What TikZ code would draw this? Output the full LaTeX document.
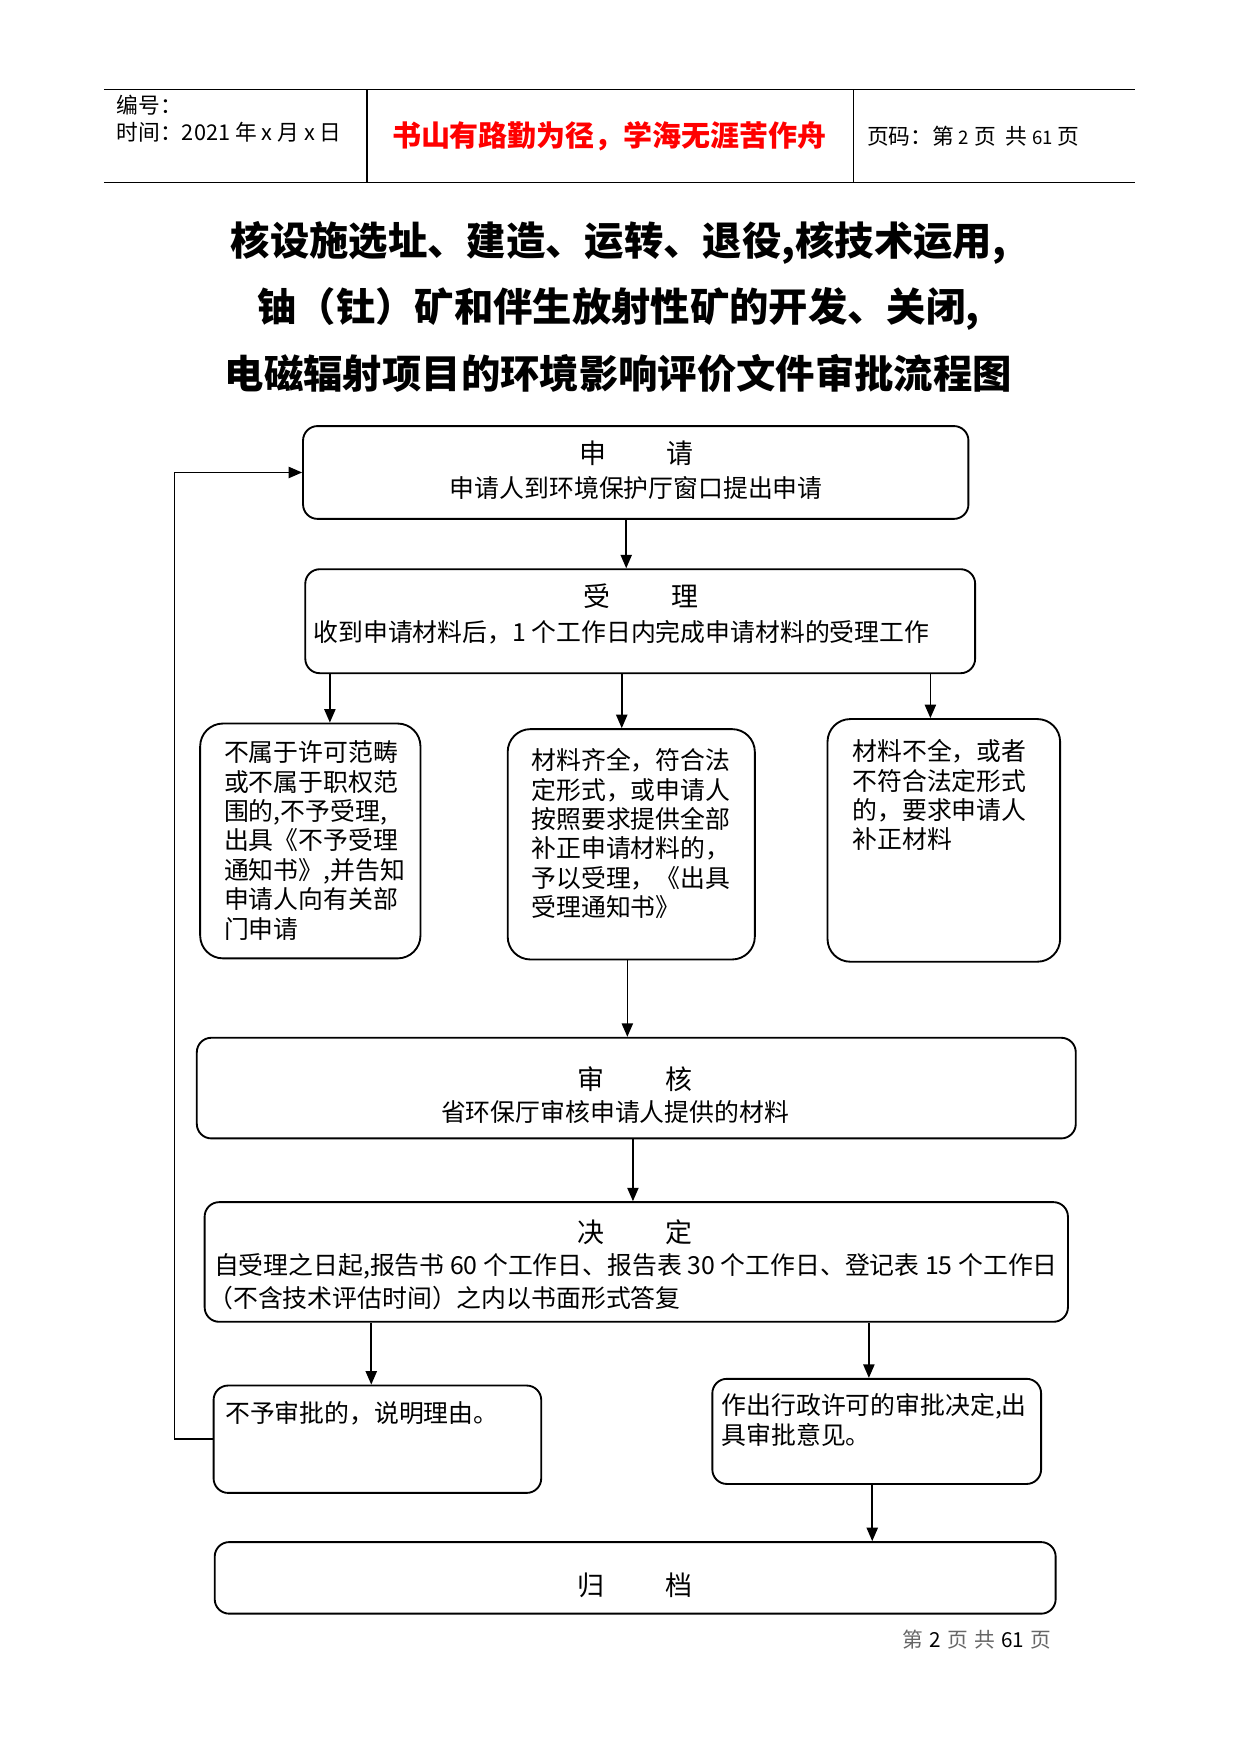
\documentclass[tikz,border=0pt]{standalone}
\usepackage{fontspec}
\setmainfont{Noto Sans CJK SC}
\usetikzlibrary{arrows.meta,fit}
\tikzset{
  box/.style={draw, line width=0.9pt, rounded corners=7pt, inner sep=0pt},
  tallbox/.style={box, rounded corners=11pt},
  arr/.style={line width=0.8pt, -{Triangle[length=6.5pt,width=5.4pt]}},
  rule/.style={line width=0.7pt},
  head/.style={font=\fontsize{13}{15}\selectfont, inner sep=0pt},
  body/.style={font=\fontsize{12}{14.2}\selectfont, inner sep=0pt},
  lines/.style={body, align=left, anchor=north west},
  ttl/.style={font=\fontsize{19}{22}\bfseries\selectfont, inner sep=0pt},
  hdr/.style={font=\fontsize{10.5}{13}\selectfont, inner sep=0pt, anchor=west}
}
\begin{document}
\begin{tikzpicture}[x=0.54pt, y=-0.54pt]
\useasboundingbox (0,0) rectangle (1109.8,1568.5);

% header table
\coordinate (hl) at (93,80);
\coordinate (hr) at (1015,80);
\coordinate (hbl) at (93,163);
\coordinate (hbr) at (1015,163);
\coordinate (v1t) at (328,80);
\coordinate (v1b) at (328,163);
\coordinate (v2t) at (763,80);
\coordinate (v2b) at (763,163);
\draw[rule] (hl) -- (hr);
\draw[rule] (hbl) -- (hbr);
\draw[rule] (v1t) -- (v1b);
\draw[rule] (v2t) -- (v2b);
\node[hdr] (bianhao) at (104,94) {编号：};
\node[hdr] (shijian) at (104,118) {时间：2021 年 x 月 x 日};
\node[font=\fontsize{14}{16}\bfseries\selectfont, text=red, inner sep=0pt] (motto) at (545,122) {书山有路勤为径，学海无涯苦作舟};
\node[hdr] (yema) at (775,122) {页码：第 {\fontsize{9}{11}\selectfont 2} 页\ \ 共 {\fontsize{9}{11}\selectfont 61} 页};

% title
\node[ttl] (t1) at (553,217) {核设施选址、建造、运转、退役,核技术运用,};
\node[ttl] (t2) at (553,276) {铀（钍）矿和伴生放射性矿的开发、关闭,};
\node[ttl] (t3) at (553,334) {电磁辐射项目的环境影响评价文件审批流程图};

% boxes
\node[box, fit={(271,381)(866,464)}] (b1) {};
\node[box, fit={(273,509)(872,602)}] (b2) {};
\node[tallbox, fit={(179,647)(376,857)}] (b3) {};
\node[tallbox, fit={(454,652)(675,858)}] (b4) {};
\node[tallbox, fit={(740,643)(948,860)}] (b5) {};
\node[box, fit={(176,928)(962,1018)}] (b6) {};
\node[box, fit={(183,1075)(955,1182)}] (b7) {};
\node[box, fit={(191,1239)(484,1335)}] (b8) {};
\node[box, fit={(637,1233)(931,1327)}] (b9) {};
\node[box, fit={(192,1379)(944,1443)}] (b10) {};

% box texts
\node[head] (h1) at (569,405) {申\hspace{2.25em}请};
\node[body] (s1) at (569,436) {申请人到环境保护厅窗口提出申请};
\node[head] (h2) at (573,533) {受\hspace{2.25em}理};
\node[body, anchor=west] (s2) at (280,565) {收到申请材料后，1 个工作日内完成申请材料的受理工作};
\node[lines] (s3) at (200,662) {不属于许可范畴\\或不属于职权范\\围的,不予受理,\\出具《不予受理\\通知书》,并告知\\申请人向有关部\\门申请};
\node[lines] (s4) at (475,669) {材料齐全，符合法\\定形式，或申请人\\按照要求提供全部\\补正申请材料的，\\予以受理，《出具\\受理通知书》};
\node[lines] (s5) at (762,661) {材料不全，或者\\不符合法定形式\\的，要求申请人\\补正材料};
\node[head] (h6) at (568,965) {审\hspace{2.25em}核};
\node[body] (s6) at (550,994) {省环保厅审核申请人提供的材料};
\node[head] (h7) at (568,1102) {决\hspace{2.25em}定};
\node[body, anchor=west] (s7a) at (191,1132) {自受理之日起,报告书 60 个工作日、报告表 30 个工作日、登记表 15 个工作日};
\node[body, anchor=west] (s7b) at (186,1161) {（不含技术评估时间）之内以书面形式答复};
\node[body, anchor=west] (s8) at (201,1264) {不予审批的，说明理由。};
\node[lines] (s9) at (645,1246) {作出行政许可的审批决定,出\\具审批意见。};
\node[head] (h10) at (568,1418) {归\hspace{2.25em}档};

% footer
\node[font=\fontsize{10}{12}\selectfont, inner sep=0pt, anchor=west] (foot) at (807,1466) {\textcolor{black!60}{第}\hspace{0.3em}2\hspace{0.3em}\textcolor{black!60}{页}\hspace{0.3em}\textcolor{black!60}{共}\hspace{0.3em}61\hspace{0.3em}\textcolor{black!60}{页}};

% connector x positions
\coordinate (xa) at (560,0);
\coordinate (xb) at (295,0);
\coordinate (xc) at (556,0);
\coordinate (xd) at (832,0);
\coordinate (xe) at (561,0);
\coordinate (xf) at (566,0);
\coordinate (xg) at (332,0);
\coordinate (xh) at (777,0);
\coordinate (xi) at (780,0);
\coordinate (xloop) at (156,0);

\draw[arr] (xa |- b1.south) -- (xa |- b2.north);
\draw[arr] (xb |- b2.south) -- (xb |- b3.north);
\draw[arr] (xc |- b2.south) -- (xc |- b4.north);
\draw[arr] (xd |- b2.south) -- (xd |- b5.north);
\draw[arr] (xe |- b4.south) -- (xe |- b6.north);
\draw[arr] (xf |- b6.south) -- (xf |- b7.north);
\draw[arr] (xg |- b7.south) -- (xg |- b8.north);
\draw[arr] (xh |- b7.south) -- (xh |- b9.north);
\draw[arr] (xi |- b9.south) -- (xi |- b10.north);
\draw[arr] (b8.west) -- (xloop |- b8.west) -- (xloop |- b1.west) -- (b1.west);
\end{tikzpicture}
\end{document}
